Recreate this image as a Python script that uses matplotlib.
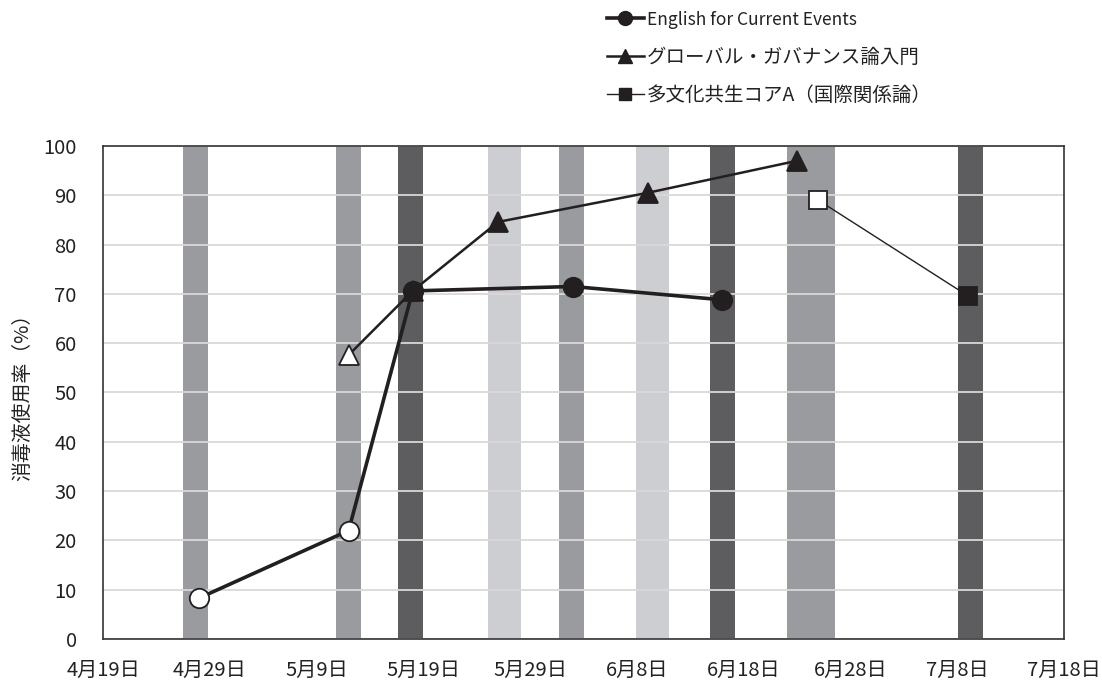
import datetime as dt
import matplotlib
matplotlib.use("Agg")
import matplotlib.pyplot as plt
from matplotlib.lines import Line2D

plt.rcParams['font.family'] = ['Noto Sans CJK JP', 'DejaVu Sans']

# ---- data -------------------------------------------------------------
x_start = dt.datetime(2020, 4, 19)
x_end = dt.datetime(2020, 7, 18)

# shaded periods: (start, end) as day offsets from x_start, and shade level
band_from = [7.5, 21.8, 27.6, 36.05, 42.7, 49.9, 56.85, 64.05, 80.05]
band_to = [9.85, 24.15, 29.95, 39.15, 45.05, 53.0, 59.2, 68.55, 82.4]
band_level = ['mid', 'mid', 'dark', 'light', 'mid', 'light', 'dark', 'mid', 'dark']

eng_dates = ['2020-04-28', '2020-05-12', '2020-05-18', '2020-06-02', '2020-06-16']
eng_vals = [8.3, 22.0, 70.6, 71.5, 68.8]
eng_hollow = [True, True, False, False, False]

gov_dates = ['2020-05-12', '2020-05-18', '2020-05-26', '2020-06-09', '2020-06-23']
gov_vals = [57.6, 70.6, 84.6, 90.5, 97.0]
gov_hollow = [True, False, False, False, False]

multi_dates = ['2020-06-25', '2020-07-09']
multi_vals = [89.0, 69.6]
multi_hollow = [True, False]

series_names = ['English for Current Events',
                'グローバル・ガバナンス論入門',
                '多文化共生コアA（国際関係論）']

y_ticks = [0, 10, 20, 30, 40, 50, 60, 70, 80, 90, 100]
y_label = '消毒液使用率（%）'

# ---- drawing ----------------------------------------------------------
ink = '#231f20'
shades = {'dark': '#5d5d5f', 'mid': '#9a9b9f', 'light': '#cdced1'}

fig = plt.figure(figsize=(11.02, 6.8), dpi=100)
ax = fig.add_axes([0.0935, 0.0603, 0.872, 0.725])

for a, b, lvl in zip(band_from, band_to, band_level):
    ax.axvspan(x_start + dt.timedelta(days=a), x_start + dt.timedelta(days=b),
               color=shades[lvl], lw=0, zorder=0.2)


def to_dates(ds):
    return [dt.datetime.strptime(d, '%Y-%m-%d') for d in ds]


def draw_series(dates, vals, hollow, marker, lw, ms):
    xs = to_dates(dates)
    ax.plot(xs, vals, color=ink, lw=lw, zorder=3, solid_joinstyle='round')
    for xv, yv, h in zip(xs, vals, hollow):
        ax.plot([xv], [yv], marker=marker, ms=ms, color=ink,
                mfc='white' if h else ink, mec=ink, mew=1.3, zorder=4)


draw_series(multi_dates, multi_vals, multi_hollow, 's', 1.0, 13)
draw_series(gov_dates, gov_vals, gov_hollow, '^', 1.8, 14)
draw_series(eng_dates, eng_vals, eng_hollow, 'o', 2.6, 14)

ax.set_xlim(x_start, x_end)
ax.set_ylim(0, 100)
ax.set_yticks(y_ticks)
tick_days = [x_start + dt.timedelta(days=10 * i) for i in range(10)]
ax.set_xticks(tick_days)
ax.set_xticklabels([f'{d.month}月{d.day}日' for d in tick_days])

ax.set_axisbelow(True)
ax.grid(axis='y', color='#d9d9d9', lw=1.3)
ax.tick_params(axis='both', length=0, labelsize=14.5, colors='#222222')
ax.tick_params(axis='x', pad=15)
ax.tick_params(axis='y', pad=19)
for s in ax.spines.values():
    s.set_color('#333333')
    s.set_linewidth(1.2)

ax.set_ylabel(y_label, fontsize=14.3, color='#222222', labelpad=7)

handles = [
    Line2D([], [], color=ink, lw=2.6, marker='o', ms=10, mfc=ink),
    Line2D([], [], color=ink, lw=1.8, marker='^', ms=10, mfc=ink),
    Line2D([], [], color=ink, lw=1.0, marker='s', ms=9, mfc=ink),
]
leg = fig.legend(handles, series_names, loc='upper left',
                 bbox_to_anchor=(607 / 1102, 1 - 11 / 680), frameon=False,
                 fontsize=14, handlelength=1.9, handletextpad=0.15,
                 labelspacing=0.9, borderpad=0, borderaxespad=0)
for t in leg.get_texts():
    t.set_color('#222222')
leg.get_texts()[0].set_fontsize(12.5)

fig.savefig('out.png', dpi=100)
